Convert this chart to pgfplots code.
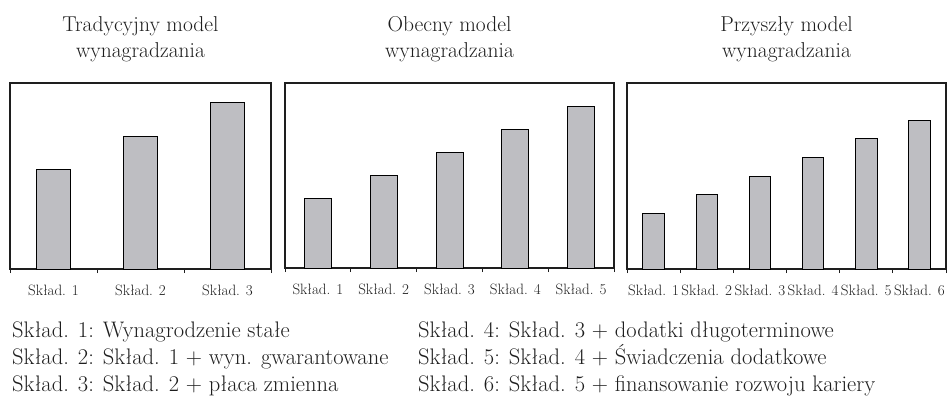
\documentclass[border=0pt]{standalone}
\usepackage{fontspec}
\usepackage{pgfplots}
\pgfplotsset{compat=1.18}
\definecolor{barfill}{RGB}{190,190,194}
\definecolor{frame}{RGB}{30,30,30}
\definecolor{txt}{RGB}{30,30,30}
\pgfplotsset{
  panel/.style={
    scale only axis,
    anchor=south west,
    axis line style={frame, line width=1.2bp},
    ymin=0, ytick=\empty,
    enlargelimits=false,
    xtick pos=left,
    tick align=outside,
    major tick length=0pt,
    minor tick length=4bp,
    minor tick style={frame, line width=1bp},
    xticklabel style={font=\fontsize{15bp}{17bp}\selectfont, anchor=base, yshift=-26bp, text=txt},
  },
  bars/.style={ybar, fill=barfill, draw=black, line width=1bp},
}
\begin{document}
\begin{tikzpicture}
\path[use as bounding box] (0,0) rectangle (947bp,-401bp);
% Panel 1
\begin{axis}[panel, at={(10bp,-269bp)}, width=261bp, height=186bp,
  xmin=0.5, xmax=3.5, ymax=5.6,
  xtick={1,2,3}, xticklabels={Skład. 1,Skład. 2,Skład. 3},
  minor xtick={0.5,1.5,2.5,3.5}]
\addplot[bars, bar width=34bp] coordinates {(1,3) (2,4) (3,5)};
\end{axis}
% Panel 2
\begin{axis}[panel, at={(285bp,-268bp)}, width=329bp, height=185bp,
  xmin=0.5, xmax=5.5, ymax=8,
  xtick={1,2,3,4,5}, xticklabels={Skład. 1,Skład. 2,Skład. 3,Skład. 4,Skład. 5},
  minor xtick={0.5,1.5,2.5,3.5,4.5,5.5}]
\addplot[bars, bar width=27bp] coordinates {(1,3) (2,4) (3,5) (4,6) (5,7)};
\end{axis}
% Panel 3
\begin{axis}[panel, at={(627bp,-269bp)}, width=319bp, height=186bp,
  xmin=0.5, xmax=6.5, ymax=10,
  xtick={1,2,3,4,5,6}, xticklabels={Skład. 1,Skład. 2,Skład. 3,Skład. 4,Skład. 5,Skład. 6},
  minor xtick={0.5,1.5,2.5,3.5,4.5,5.5,6.5}]
\addplot[bars, bar width=21.5bp] coordinates {(1,3) (2,4) (3,5) (4,6) (5,7) (6,8)};
\end{axis}
% Titles
\begin{scope}[every node/.style={anchor=base, inner sep=0pt, text=txt, font=\fontsize{21.5bp}{25bp}\selectfont}]
\node at (140.5bp,-31bp) {Tradycyjny model};
\node at (140.5bp,-57bp) {wynagradzania};
\node at (449.5bp,-31bp) {Obecny model};
\node at (449.5bp,-57bp) {wynagradzania};
\node at (786.5bp,-31bp) {Przyszły model};
\node at (786.5bp,-57bp) {wynagradzania};
\end{scope}
% Key
\begin{scope}[every node/.style={anchor=base west, inner sep=0pt, text=txt, font=\fontsize{22.5bp}{27bp}\selectfont}]
\node at (12bp,-337bp) {Skład. 1: Wynagrodzenie stałe};
\node at (12bp,-364bp) {Skład. 2: Skład. 1 + wyn. gwarantowane};
\node at (12bp,-391bp) {Skład. 3: Skład. 2 + płaca zmienna};
\node at (418bp,-337bp) {Skład. 4: Skład. 3 + dodatki długoterminowe};
\node at (418bp,-364bp) {Skład. 5: Skład. 4 + Świadczenia dodatkowe};
\node at (418bp,-391bp) {Skład. 6: Skład. 5 + finansowanie rozwoju kariery};
\end{scope}
\end{tikzpicture}
\end{document}
